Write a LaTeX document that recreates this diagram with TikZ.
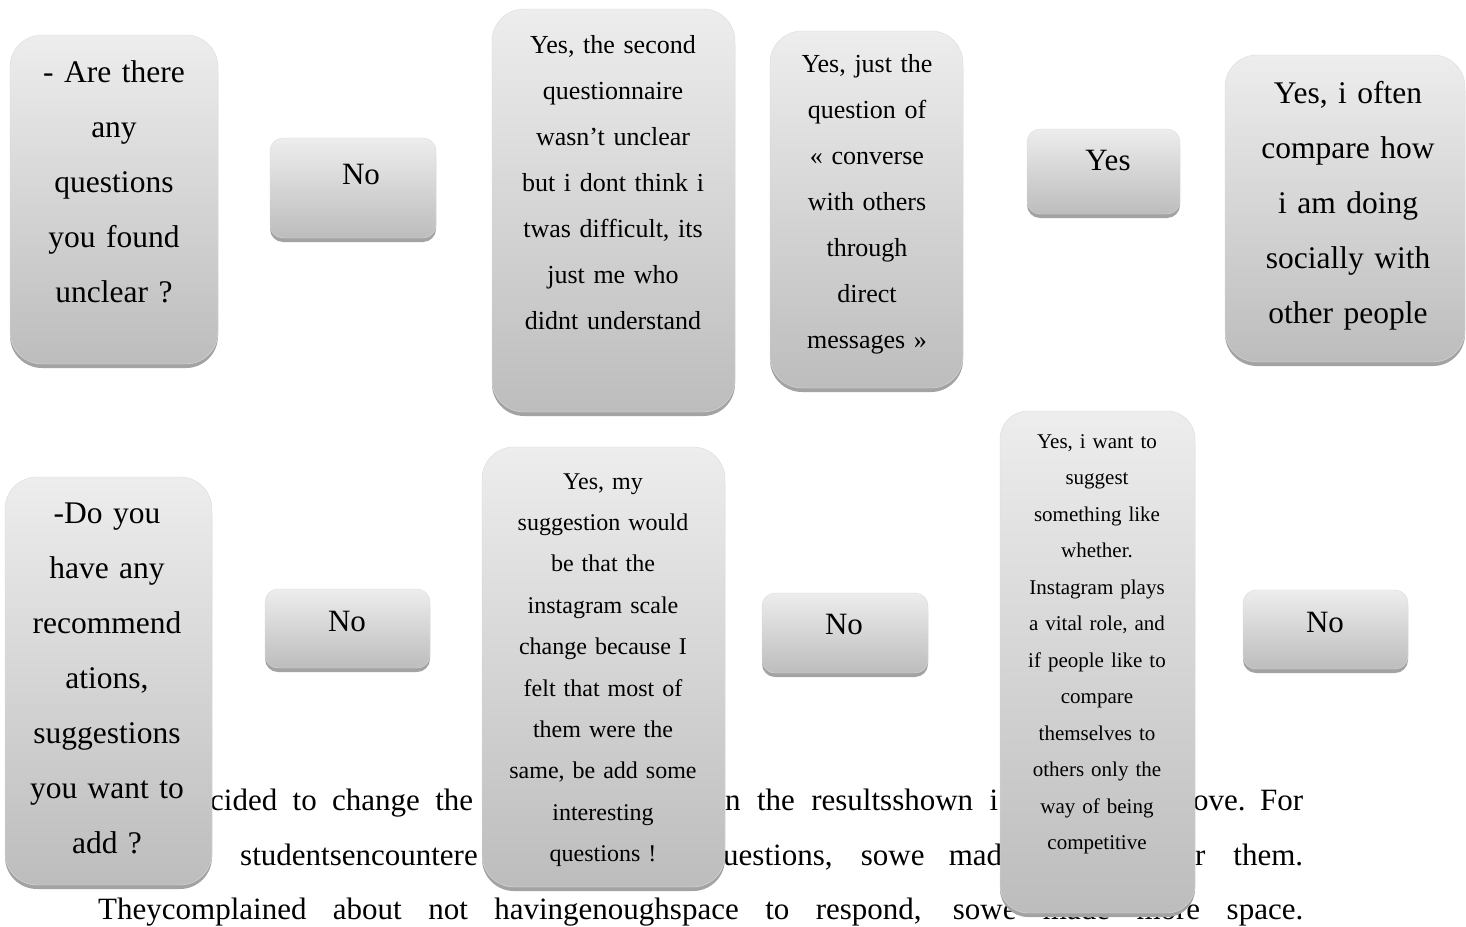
\documentclass[tikz,border=0pt]{standalone}
\usepackage{fontspec}
\setmainfont{Liberation Serif}
\usetikzlibrary{shadows}
\tikzset{
  cardbox/.style={rectangle, anchor=north west, inner sep=0pt, outer sep=0pt,
    draw=black!14, line width=0.4pt, top color=black!7, bottom color=black!26,
    drop shadow={shadow xshift=0pt, shadow yshift=-4pt, fill=black!36, opacity=1}},
  bigcard/.style={cardbox, rounded corners=32pt},
  smallcard/.style={cardbox, rounded corners=13pt},
  cardtext/.style={anchor=base, align=center, inner sep=0pt, text=black},
  bigtxt/.style={cardtext, font=\fontsize{31.5}{55}\selectfont},
  midtxt/.style={cardtext, font=\fontsize{26}{46}\selectfont},
  smalltxt/.style={cardtext, font=\fontsize{31}{31}\selectfont},
  para/.style={anchor=base west, inner sep=0pt, font=\fontsize{31}{31}\selectfont}
}
\begin{document}
\begin{tikzpicture}[x=1pt,y=-1pt]
\useasboundingbox (0,0) rectangle (1466,926);

% background paragraph (partly hidden by the boxes)
\node[para] (p1a) at (210,810) {\makebox[263pt][s]{cided to change the}};
\node[para] (p1b) at (725,810) {\makebox[273pt][s]{n the resultsshown i}};
\node[para] (p1c) at (1193,810) {\makebox[110pt][s]{ove. For}};
\node[para] (p2a) at (240,865) {studentsencountere};
\node[para] (p2b) at (723,865) {\makebox[279pt][s]{uestions, sowe mad}};
\node[para] (p2c) at (1195,865) {\makebox[108pt][s]{r them.}};
\node[para] (p3) at (98,919) {\makebox[1205pt][s]{Theycomplained about not havingenoughspace to respond, sowe made more space.}};

% top row
\node[bigcard, minimum width=208pt, minimum height=329pt] (A) at (10,35) {};
\node[bigtxt, text width=200pt] (tA) at (114,82) {- Are there\\any\\questions\\you found\\unclear ?};

\node[smallcard, minimum width=166pt, minimum height=100pt] (N1) at (270,138) {};
\node[smalltxt] (tN1) at (361,184) {No};

\node[bigcard, minimum width=243pt, minimum height=403pt] (B) at (492,9) {};
\node[midtxt, text width=235pt] (tB) at (613,53) {Yes, the second\\questionnaire\\wasn’t unclear\\but i dont think i\\twas difficult, its\\just me who\\didnt understand};

\node[bigcard, minimum width=193pt, minimum height=357pt] (C) at (770,31) {};
\node[midtxt, text width=188pt] (tC) at (867,72) {Yes, just the\\question of\\« converse\\with others\\through\\direct\\messages »};

\node[smallcard, minimum width=153pt, minimum height=85pt] (Y1) at (1027,129) {};
\node[smalltxt] (tY1) at (1108,170) {Yes};

\node[bigcard, minimum width=240pt, minimum height=307pt] (D) at (1225,55) {};
\node[bigtxt, text width=235pt] (tD) at (1348,103) {Yes, i often\\compare how\\i am doing\\socially with\\other people};

% bottom row
\node[bigcard, minimum width=207pt, minimum height=408pt] (E) at (5,477) {};
\node[bigtxt, text width=205pt] (tE) at (107,523) {-Do you\\have any\\recommend\\ations,\\suggestions\\you want to\\add ?};

\node[smallcard, minimum width=165pt, minimum height=79pt] (N2) at (265,589) {};
\node[smalltxt] (tN2) at (347,631) {No};

\node[bigcard, minimum width=243pt, minimum height=440pt] (F) at (482,447) {};
\node[cardtext, font=\fontsize{24}{41.4}\selectfont, text width=238pt] (tF) at (603,489) {Yes, my\\suggestion would\\be that the\\instagram scale\\change because I\\felt that most of\\them were the\\same, be add some\\interesting\\questions !};

\node[smallcard, minimum width=166pt, minimum height=80pt] (N3) at (762,593) {};
\node[smalltxt] (tN3) at (844,634) {No};

\node[cardbox, rounded corners=28pt, minimum width=195pt, minimum height=502pt] (G) at (1000,411) {};
\node[cardtext, font=\fontsize{21}{36.5}\selectfont, text width=190pt] (tG) at (1097,448) {Yes, i want to\\suggest\\something like\\whether.\\Instagram plays\\a vital role, and\\if people like to\\compare\\themselves to\\others only the\\way of being\\competitive};

\node[smallcard, minimum width=165pt, minimum height=79pt] (N4) at (1243,590) {};
\node[smalltxt] (tN4) at (1325,632) {No};
\end{tikzpicture}
\end{document}
